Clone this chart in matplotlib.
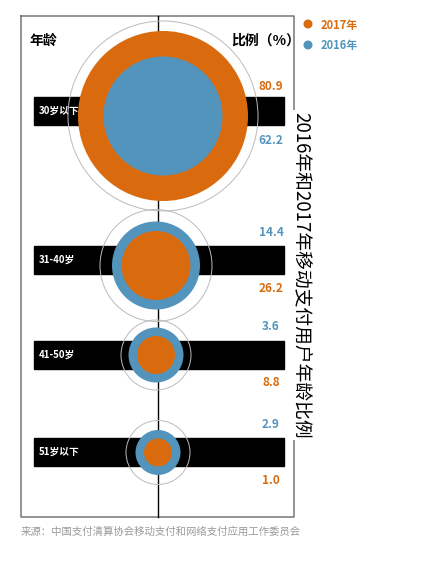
import matplotlib
matplotlib.use('Agg')
import matplotlib.pyplot as plt
from matplotlib.patches import Circle, Rectangle

plt.rcParams['font.family'] = ['Noto Sans CJK SC', 'DejaVu Sans']

# data
ages = ['30岁以下', '31-40岁', '41-50岁', '51岁以下']
pct_2017 = [80.9, 26.2, 8.8, 1.0]
pct_2016 = [62.2, 14.4, 3.6, 2.9]
title = '2016年和2017年移动支付用户年龄比例'
source = '来源：中国支付清算协会移动支付和网络支付应用工作委员会'

ORANGE = '#D96B0E'
BLUE = '#5294BC'

# layout (pixels) - the circle sizes in the original are a design choice
row_y = [111, 260, 354.5, 452]
circ_x = [163, 156, 156, 158]
circ_y = [116, 265.5, 355, 452.5]
outer_r = [85, 44, 27.5, 22.5]
inner_r = [59.5, 34.5, 19, 14]
outer_col = [ORANGE, BLUE, BLUE, BLUE]
inner_col = [BLUE, ORANGE, ORANGE, ORANGE]
halo_r = [95, 56, 35, 32]
top_lab_y = [86, 232, 326, 424]
bot_lab_y = [140, 289, 382, 481]

fig = plt.figure(figsize=(4.26, 5.68), dpi=100)
ax = fig.add_axes([0, 0, 1, 1])
ax.set_xlim(0, 426)
ax.set_ylim(568, 0)
ax.set_aspect('equal')
ax.axis('off')

# frame
ax.plot([21, 21, 294, 294, 21], [16, 517, 517, 16, 16], color='#777777', lw=1.1, zorder=1)
# centre line
ax.plot([158, 158], [16, 517], color='black', lw=1, zorder=2)

for i, age in enumerate(ages):
    ax.add_patch(Rectangle((34, row_y[i] - 14), 250, 28, color='black', zorder=3))
    ax.text(39, row_y[i], age, color='white', fontsize=7, fontweight='bold',
            ha='left', va='center', zorder=4)
    ax.add_patch(Circle((circ_x[i], circ_y[i]), halo_r[i], fill=False,
                        ec='#bbbbbb', lw=0.7, zorder=5))
    ax.add_patch(Circle((circ_x[i], circ_y[i]), outer_r[i], color=outer_col[i], lw=0, zorder=6))
    ax.add_patch(Circle((circ_x[i], circ_y[i]), inner_r[i], color=inner_col[i], lw=0, zorder=7))
    # value labels: the colour of the outer ring goes on top
    if i == 0:
        top_v, top_c, bot_v, bot_c = pct_2017[i], ORANGE, pct_2016[i], BLUE
    else:
        top_v, top_c, bot_v, bot_c = pct_2016[i], BLUE, pct_2017[i], ORANGE
    ax.text(271, top_lab_y[i], f'{top_v:.1f}', color=top_c, fontsize=8.5,
            fontweight='bold', ha='center', va='center', zorder=8)
    ax.text(271, bot_lab_y[i], f'{bot_v:.1f}', color=bot_c, fontsize=8.5,
            fontweight='bold', ha='center', va='center', zorder=8)

ax.text(29, 41, '年龄', fontsize=10, fontweight='bold', ha='left', va='center', zorder=8)
ax.text(300, 41, '比例（%）', fontsize=10, fontweight='bold', ha='right', va='center', zorder=8)

# vertical title
ax.text(301, 275, title, fontsize=13.5, rotation=-90, ha='center', va='center',
        zorder=9, bbox=dict(fc='white', ec='none', pad=1))

# legend
ax.add_patch(Circle((308, 24), 4.5, color=ORANGE, lw=0, zorder=8))
ax.add_patch(Circle((308, 45), 4.5, color=BLUE, lw=0, zorder=8))
ax.text(321, 25, '2017年', color=ORANGE, fontsize=8, fontweight='bold', ha='left', va='center')
ax.text(321, 46, '2016年', color=BLUE, fontsize=8, fontweight='bold', ha='left', va='center')

ax.text(21, 532, source, color='#9a9a9a', fontsize=7.5, ha='left', va='center')

fig.savefig('out.png', dpi=100)
